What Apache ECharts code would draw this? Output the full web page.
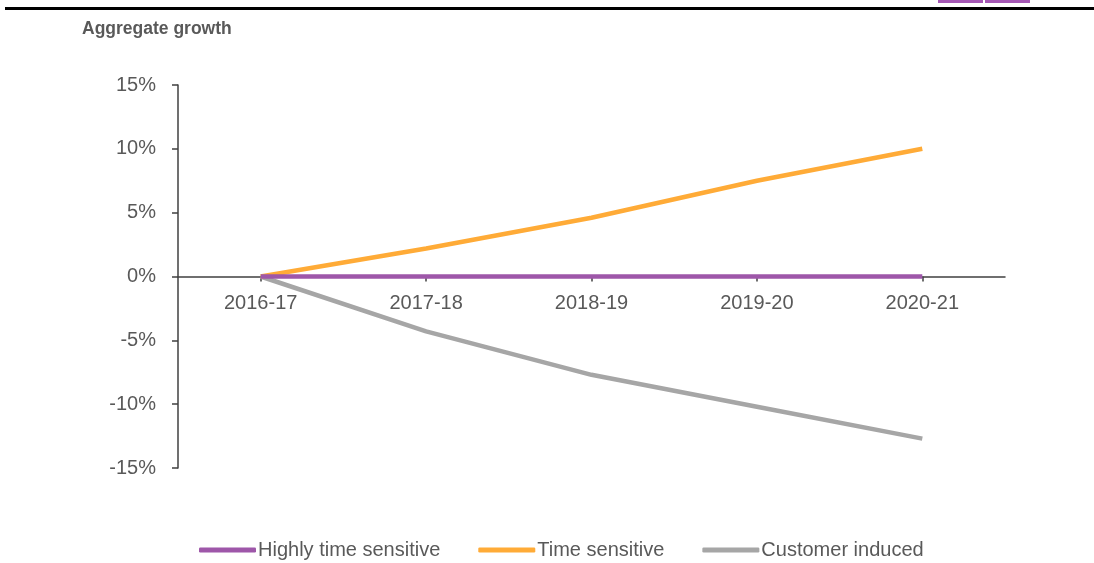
<!DOCTYPE html>
<html>
<head>
<meta charset="utf-8">
<script src="https://cdn.jsdelivr.net/npm/echarts@6/dist/echarts.min.js"></script>
<style>
html,body{margin:0;padding:0;background:#fff;}
#chart{width:1094px;height:563px;}
</style>
</head>
<body>
<div id="chart"></div>
<script>
const categories = ['2016-17', '2017-18', '2018-19', '2019-20', '2020-21'];
const highlyTimeSensitive = [0, 0, 0, 0, 0];
const timeSensitive = [0, 2.2, 4.6, 7.5, 10.0];
const customerInduced = [0, -4.3, -7.7, -10.2, -12.7];
const seriesNames = ['Highly time sensitive', 'Time sensitive', 'Customer induced'];
const colors = ['#9E57A9', '#FFAB37', '#A6A6A6'];

const font = '"Liberation Sans Narrow", "Liberation Sans", Arial, sans-serif';
const textColor = '#595959';
const axisColor = '#404040';
const chart = echarts.init(document.getElementById('chart'));
chart.setOption({
  animation: false,
  color: colors,
  title: {
    text: 'Aggregate growth',
    left: 77, top: 15,
    textStyle: { fontFamily: font, fontSize: 17.5, fontWeight: 'bold', color: textColor }
  },
  graphic: [
    { type: 'rect', shape: { x: 5, y: 7, width: 1089, height: 3 }, style: { fill: '#000' } },
    { type: 'rect', shape: { x: 938, y: 0, width: 45, height: 3 }, style: { fill: '#A558B5' } },
    { type: 'rect', shape: { x: 985, y: 0, width: 45, height: 3 }, style: { fill: '#A558B5' } }
  ],
  legend: {
    top: 535,
    left: 194,
    itemWidth: 57,
    itemHeight: 5,
    itemGap: 38,
    icon: 'roundRect',
    textStyle: { fontFamily: font, fontSize: 20, color: textColor, padding: [0, 0, 0, -3] },
    data: seriesNames
  },
  grid: { left: 178, right: 89, top: 85, bottom: 95, containLabel: false },
  xAxis: {
    type: 'category',
    data: categories,
    boundaryGap: true,
    position: 'bottom',
    offset: -191.5,
    axisLine: { onZero: false, lineStyle: { color: axisColor, width: 1.5 } },
    axisTick: { show: true, alignWithLabel: true, length: 5, lineStyle: { color: axisColor, width: 1.5 } },
    axisLabel: { margin: 17, fontFamily: font, fontSize: 20, color: textColor },
    splitLine: { show: false }
  },
  yAxis: {
    type: 'value',
    min: -15, max: 15, interval: 5,
    axisLine: { show: true, lineStyle: { color: axisColor, width: 1.5 } },
    axisTick: { show: true, length: 6, lineStyle: { color: axisColor, width: 1.5 } },
    axisLabel: { margin: 22, fontFamily: font, fontSize: 20, color: textColor, formatter: v => v + '%' },
    splitLine: { show: false }
  },
  series: [
    { name: seriesNames[2], type: 'line', data: customerInduced, showSymbol: false, symbol: 'none', lineStyle: { width: 4.5, color: colors[2] }, itemStyle: { color: colors[2] }, z: 2 },
    { name: seriesNames[1], type: 'line', data: timeSensitive, showSymbol: false, symbol: 'none', lineStyle: { width: 4.5, color: colors[1] }, itemStyle: { color: colors[1] }, z: 3 },
    { name: seriesNames[0], type: 'line', data: highlyTimeSensitive, showSymbol: false, symbol: 'none', lineStyle: { width: 4.5, color: colors[0] }, itemStyle: { color: colors[0] }, z: 4 }
  ]
});
</script>
</body>
</html>
